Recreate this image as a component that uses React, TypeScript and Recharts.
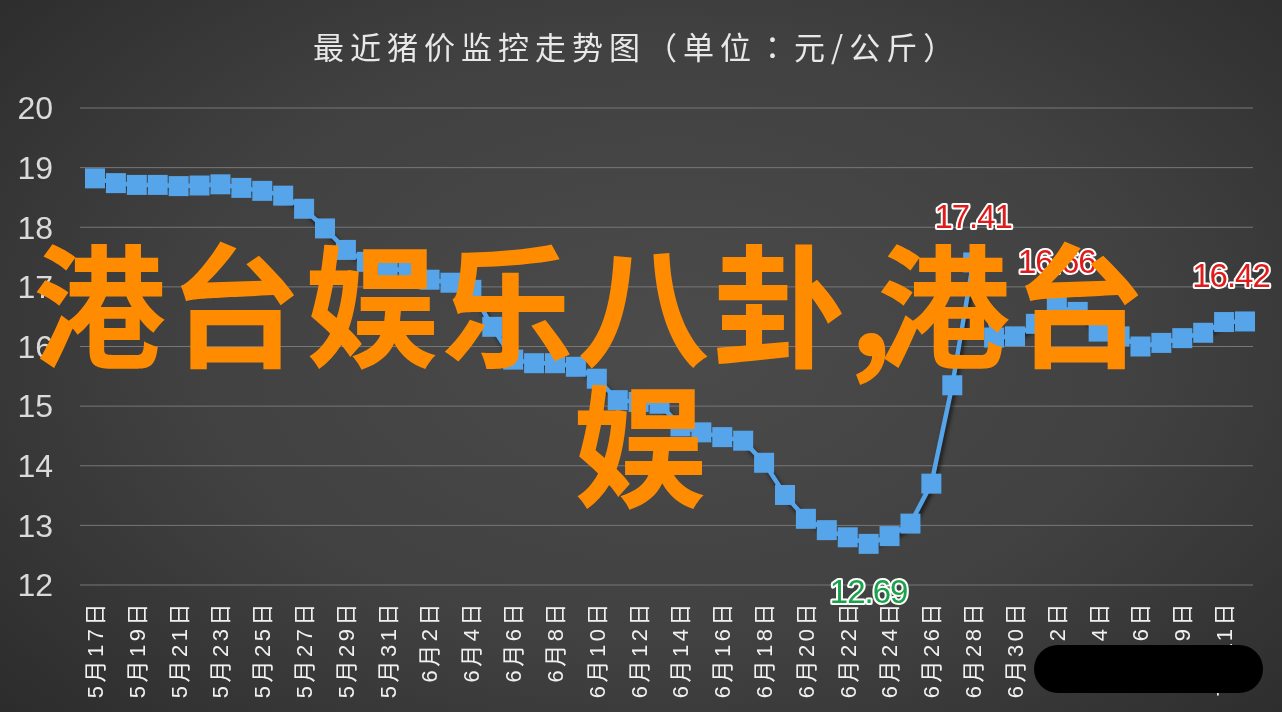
import { LineChart, Line, XAxis, YAxis, CartesianGrid } from "recharts";

const dates = [
  "5月17日", "5月18日", "5月19日", "5月20日", "5月21日", "5月22日", "5月23日", "5月24日",
  "5月25日", "5月26日", "5月27日", "5月28日", "5月29日", "5月30日", "5月31日", "6月1日",
  "6月2日", "6月3日", "6月4日", "6月5日", "6月6日", "6月7日", "6月8日", "6月9日",
  "6月10日", "6月11日", "6月12日", "6月13日", "6月14日", "6月15日", "6月16日", "6月17日",
  "6月18日", "6月19日", "6月20日", "6月21日", "6月22日", "6月23日", "6月24日", "6月25日",
  "6月26日", "6月27日", "6月28日", "6月29日", "6月30日", "7月1日", "7月2日", "7月3日",
  "7月4日", "7月5日", "7月6日", "7月8日", "7月9日", "7月10日", "7月11日", "7月12日",
];

const prices = [
  18.82, 18.74, 18.71, 18.71, 18.69, 18.7, 18.72, 18.66,
  18.61, 18.53, 18.31, 17.98, 17.62, 17.42, 17.33, 17.25,
  17.12, 17.07, 16.95, 16.33, 15.78, 15.72, 15.72, 15.66,
  15.46, 15.1, 15.07, 15.04, 14.66, 14.56, 14.48, 14.42,
  14.05, 13.51, 13.11, 12.92, 12.8, 12.69, 12.82, 13.03,
  13.7, 15.35, 17.41, 16.15, 16.17, 16.38, 16.66, 16.58,
  16.25, 16.17, 16.0, 16.06, 16.14, 16.23, 16.41, 16.42,
];

const yTicks = [12, 13, 14, 15, 16, 17, 18, 19, 20];

// points that carry a value label
const highLabels = [42, 46, 55];
const lowLabels = [37];

const titleMain = "最近猪价监控走势图（单位";
const titleColon = "：";
const titleRest = "元/公斤）";
const watermarkStart = "港台娱乐八卦";
const watermarkComma = ",";
const watermarkEnd = "港台";
const watermarkLine2 = "娱";

const data = dates.map((d, i) => ({ date: d, price: prices[i] }));

const LINE_COLOR = "#56a5ea";

function XTick(props: any) {
  const { x, y, payload } = props;
  return (
    <g transform={`translate(${x},${y})`}>
      <text
        transform="rotate(-90)"
        x={-15}
        y={0}
        dy="0.36em"
        textAnchor="end"
        fill="#f0f0f0"
        fontSize={22}
        style={{ letterSpacing: "3.5px" }}
        fontFamily="'Liberation Sans', 'Noto Sans CJK SC', sans-serif"
      >
        {payload.value}
      </text>
    </g>
  );
}

function valueLabel(x: number, y: number, text: string, fill: string) {
  return (
    <text
      x={x}
      y={y}
      textAnchor="middle"
      fontSize={33}
      fontFamily="'Liberation Sans', Arial, sans-serif"
      fill={fill}
      stroke="#ffffff"
      strokeWidth={4}
      strokeLinejoin="round"
      style={{ paintOrder: "stroke", letterSpacing: "-1px" }}
    >
      {text}
    </text>
  );
}

function renderDot(props: any) {
  const { cx, cy, index, value } = props;
  const s = 20;
  let label = null;
  if (highLabels.includes(index)) {
    label = valueLabel(Math.min(cx, 1231), cy - 34, value.toFixed(2), "#e11b1b");
  } else if (lowLabels.includes(index)) {
    label = valueLabel(cx, cy + 59, value.toFixed(2), "#1aa34a");
  }
  return (
    <g key={`dot-${index}`}>
      <rect x={cx - s / 2} y={cy - s / 2} width={s} height={s} fill={LINE_COLOR} />
      {label}
    </g>
  );
}

const watermarkStyle = {
  position: "absolute" as const,
  fontSize: 133,
  lineHeight: "140px",
  fontWeight: 700,
  color: "#ff8c00",
  whiteSpace: "nowrap" as const,
  fontFamily: "'Noto Sans CJK SC', sans-serif",
};

export default function App() {
  return (
    <div
      style={{
        position: "fixed",
        left: 0,
        top: 0,
        width: 1282,
        height: 712,
        overflow: "hidden",
        background:
          "radial-gradient(ellipse 75% 85% at 52% 48%, #4b4b4b 0%, #414141 50%, #282828 100%)",
      }}
    >
      <style>{`.recharts-line { filter: drop-shadow(2px 3px 2px rgba(0,0,0,0.65)); }`}</style>
      <div
        style={{
          position: "absolute",
          left: 313,
          top: 30,
          fontSize: 31,
          lineHeight: "31px",
          letterSpacing: "6px",
          color: "#e8e8e8",
          whiteSpace: "nowrap",
          fontFamily: "'Noto Sans CJK SC', sans-serif",
        }}
      >
        {titleMain}
        <span style={{ fontFamily: "'Noto Sans CJK TC', sans-serif" }}>{titleColon}</span>
        {titleRest}
      </div>
      <div style={{ position: "absolute", left: 0, top: 0 }}>
        <LineChart
          width={1282}
          height={712}
          data={data}
          margin={{ top: 108, right: 29, left: 0, bottom: 0 }}
        >
          <CartesianGrid vertical={false} stroke="#777777" strokeWidth={1} />
          <XAxis
            dataKey="date"
            interval={1}
            height={127}
            tick={<XTick />}
            tickLine={false}
            axisLine={false}
            tickSize={0}
            tickMargin={0}
            padding={{ left: 15, right: 8 }}
          />
          <YAxis
            domain={[12, 20]}
            ticks={yTicks}
            width={80}
            tickLine={false}
            axisLine={false}
            tickSize={0}
            tickMargin={27}
            tick={{
              fill: "#dadada",
              fontSize: 32,
              fontFamily: "'Liberation Sans', Arial, sans-serif",
            }}
          />
          <Line
            type="linear"
            dataKey="price"
            stroke={LINE_COLOR}
            strokeWidth={4.5}
            dot={renderDot}
            activeDot={false}
            isAnimationActive={false}
          />
        </LineChart>
      </div>
      <div style={{ ...watermarkStyle, left: 33, top: 229, letterSpacing: "3px" }}>
        {watermarkStart}
        <span style={{ marginRight: -18 }}>{watermarkComma}</span>
        {watermarkEnd}
      </div>
      <div style={{ ...watermarkStyle, left: 573, top: 369 }}>{watermarkLine2}</div>
      <div
        style={{
          position: "absolute",
          left: 1034,
          top: 645,
          width: 229,
          height: 48,
          borderRadius: 24,
          background: "#000000",
        }}
      />
    </div>
  );
}
